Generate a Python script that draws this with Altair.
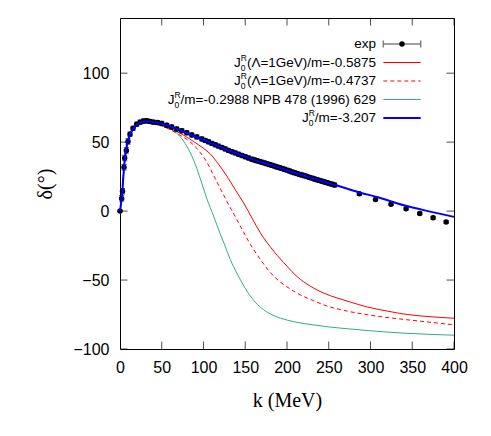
import altair as alt
import pandas as pd

# ---------------- data ----------------
exp_k = [0, 2, 3, 4.8, 5.6, 7.6, 9.6, 12, 15.6, 20, 24, 28, 32, 36, 40, 45, 50, 56, 62, 68,
         74, 80, 86, 92,
         98, 102, 106, 110, 114, 118, 122, 126, 130, 134, 138, 142, 146, 150, 154, 158,
         161, 164, 167, 170, 173, 176, 179, 182, 185, 188, 191, 194, 197, 200, 203, 206, 209,
         212, 215, 218, 221, 224, 227, 230, 233, 236, 239, 242, 245, 248, 251, 254, 257,
         286.6, 306, 324.6, 342.6, 359, 375, 390.6]
exp_d = [0, 9.2, 14.4, 31.8, 38.5, 44, 50.5, 55.8, 60, 63, 64.5, 65.3, 65.5, 65, 64.5, 64.2,
         63.6, 62.2, 61, 59.5, 58.3, 56.8, 55.2, 53.8,
         52.3, 51.2, 50.2, 49.1, 48.1, 47.1, 46.1, 45.1, 44.0, 43.1, 42.2, 41.2, 40.3, 39.4,
         38.5, 37.6,
         37.1, 36.5, 36.0, 35.4, 34.9, 34.3, 33.7, 33.2, 32.6, 32.0, 31.5, 30.9, 30.3, 29.7,
         29.1, 28.4, 27.8, 27.2, 26.6, 26.1, 25.6, 25.0, 24.4, 23.9, 23.3, 22.7, 22.2, 21.6,
         21.1, 20.6, 20.0, 19.5, 18.9,
         12.5, 8.4, 5.0, 1.7, -1.7, -4.8, -7.9]
exp_err = [0.5, 2, 2, 2, 2, 2, 2, 1.5, 1.5, 1.5, 1.5, 1.5, 1.5, 1.5, 1.5, 1.5, 1.5, 1.5, 1.5,
           1.5, 1.5, 1.5, 1.5, 1.5,
           1.5, 1.5, 1.5, 1.5, 1.5, 1.5, 1.5, 1.5, 1.5, 1.5, 1.5, 1.5, 1.5, 1.5, 1.5, 1.5,
           1.5, 1.5, 1.5, 1.5, 1.5, 1.5, 1.5, 1.5, 1.5, 1.5, 1.5, 1.5, 1.5, 1.5, 1.5, 1.5, 1.5,
           1.5, 1.5, 1.5, 1.5, 1.5, 1.5, 1.5, 1.5, 1.5, 1.5, 1.5, 1.5, 1.5, 1.5, 1.5, 1.5,
           1, 1, 1, 1, 1, 1, 1]

blue_k = [0, 1, 2, 3, 4, 5, 6, 7, 8, 10, 12, 15, 20, 25, 30, 35, 40, 48, 60, 72, 86, 100, 114,
          128, 144, 160, 176, 192, 208, 224, 240, 260, 286, 310, 340, 370, 400]
blue_d = [0, 4.5, 9, 16, 25, 33, 39, 43.5, 47, 52, 55.5, 59, 62.5, 64.5, 65, 65, 64.5, 63.6,
          61.5, 58.5, 55, 51.7, 48, 44.5, 41, 37.3, 34.3, 31.3, 28, 25, 22, 18.5, 13.7, 9.8,
          4.2, -0.2, -4.2]

red_k = [0, 2, 4, 6, 8, 10, 12, 15, 20, 25, 30, 35, 40, 50, 60, 72, 88, 100, 108, 118, 128,
         138, 148, 158, 168, 184, 200, 212, 228, 244, 260, 276, 296, 320, 344, 370, 400]
red_d = [0, 9, 25, 38, 46, 51, 55, 58.5, 62, 63.5, 64.2, 64.3, 64, 62.3, 59.8, 56.5, 50.5,
         45.5, 41.5, 34, 25.3, 15.5, 6, -5, -15.7, -29, -40, -47.5, -54.5, -59.5, -63, -66,
         -69.5, -72.5, -75, -76.5, -77.7]

dash_k = [0, 2, 4, 6, 8, 10, 12, 15, 20, 25, 30, 35, 40, 50, 60, 72, 80, 88, 96, 104, 112, 120,
          128, 138, 146, 156, 168, 180, 192, 204, 212, 232, 244, 272, 300, 332, 370, 400]
dash_d = [0, 9, 25, 38, 46, 51, 55, 58.5, 62, 63.5, 64, 64, 63.5, 61.8, 59, 55, 52, 48, 42.5,
          35.5, 26, 16.5, 7, -4, -13, -24, -35, -44.5, -51.5, -56.5, -59.5, -65, -68, -72.5,
          -75.5, -78, -80.5, -82.5]

green_k = [0, 2, 4, 6, 8, 10, 12, 15, 20, 25, 30, 35, 40, 48, 56, 64, 72, 80, 86, 92, 98, 104,
           112, 120, 126, 132, 140, 152, 162, 172, 185, 200, 212, 232, 250, 276, 300, 340, 400]
green_d = [0, 9, 25, 38, 46, 51, 55, 58.5, 61.8, 63.2, 63.8, 63.8, 63.3, 62, 60.5, 58.3, 54, 47,
           40, 31, 20, 9, -3.5, -16.5, -25.5, -35, -45, -58, -66, -71.5, -76, -79, -80.7, -82.5,
           -84, -85.5, -86.8, -88.5, -90]

x_ticks = [0, 50, 100, 150, 200, 250, 300, 350, 400]
y_ticks = [-100, -50, 0, 50, 100]

legend_exp = "exp"
legend_rest = ["(Λ=1GeV)/m=-0.5875", "(Λ=1GeV)/m=-0.4737",
               "/m=-0.2988 NPB 478 (1996) 629", "/m=-3.207"]

# ---------------- styles ----------------
RED = "#ff0000"
GREEN = "#2fae88"
BLUE = "#0000ff"
FONT = "Liberation Sans"
SERIF = "Liberation Serif"

XS = alt.Scale(domain=[0, 400], nice=False, zero=False)
YS = alt.Scale(domain=[-100, 140], nice=False, zero=False)

xaxis = alt.Axis(values=x_ticks, title="k (MeV)", ticks=False, domain=False, grid=False,
                 labelFontSize=16, labelFont=FONT, labelColor="black", labelPadding=10,
                 labelFlush=False, labelOverlap=False,
                 titleFont=SERIF, titleFontSize=20, titleFontWeight="normal",
                 titleColor="black", titleY=51, titleBaseline="middle")
yaxis = alt.Axis(values=y_ticks, title="δ(°)", ticks=False, domain=False, grid=False,
                 labelFontSize=16, labelFont=FONT, labelColor="black", labelPadding=11,
                 labelFlush=False, labelOverlap=False,
                 titleFont=SERIF, titleFontSize=20, titleFontWeight="normal",
                 titleColor="black", titleX=-75, titleY=165.5, titleBaseline="middle",
                 titleAlign="center")


def X(f):
    return alt.X(f, type="quantitative", scale=XS, axis=xaxis)


def Y(f):
    return alt.Y(f, type="quantitative", scale=YS, axis=yaxis)


def curve(ks, ds, color, width, dash=None):
    df = pd.DataFrame({"k": ks, "d": ds})
    kw = dict(color=color, strokeWidth=width, interpolate="monotone")
    if dash:
        kw["strokeDash"] = dash
    return alt.Chart(df).mark_line(**kw).encode(x=X("k"), y=Y("d"))


layers = []

# inward ticks (clipped to the plot area)
xt = pd.DataFrame({"k": x_ticks})
yt = pd.DataFrame({"d": y_ticks})
for yv in (-100, 140):
    layers.append(alt.Chart(xt).mark_tick(orient="vertical", size=15, thickness=1,
                                          color="black", clip=True)
                  .encode(x=X("k"), y=alt.Y(datum=yv, type="quantitative", scale=YS, axis=yaxis)))
for xv in (0, 400):
    layers.append(alt.Chart(yt).mark_tick(orient="horizontal", size=15, thickness=1,
                                          color="black", clip=True)
                  .encode(y=Y("d"), x=alt.X(datum=xv, type="quantitative", scale=XS, axis=xaxis)))

layers.append(curve(green_k, green_d, GREEN, 1))
layers.append(curve(dash_k, dash_d, RED, 1, [4, 3]))
layers.append(curve(red_k, red_d, RED, 1))

exp_df = pd.DataFrame({"k": exp_k, "d": exp_d, "e": exp_err})
exp_df["lo"] = exp_df["d"] - exp_df["e"]
exp_df["hi"] = exp_df["d"] + exp_df["e"]
layers.append(alt.Chart(exp_df).mark_rule(color="black", strokeWidth=1)
              .encode(x=X("k"), y=Y("lo"), y2="hi"))
layers.append(alt.Chart(exp_df).mark_tick(orient="horizontal", size=5, thickness=1, color="black")
              .encode(x=X("k"), y=Y("lo")))
layers.append(alt.Chart(exp_df).mark_tick(orient="horizontal", size=5, thickness=1, color="black")
              .encode(x=X("k"), y=Y("hi")))
layers.append(alt.Chart(exp_df).mark_circle(color="black", size=30, opacity=1)
              .encode(x=X("k"), y=Y("d")))

layers.append(curve(blue_k, blue_d, BLUE, 2))

# ---------------- legend ----------------
one = pd.DataFrame({"a": [0]})
W = {"(": 333, ")": 333, "Λ": 667, "=": 584, "G": 778, "e": 556, "V": 667, "/": 278,
     "m": 833, "-": 333, ".": 278, " ": 278, "N": 722, "P": 667, "B": 667}
for c in "0123456789":
    W[c] = 556
FS = 13.5
SS = 8.5
XR = 256
L0, L1 = 263.3, 300.7
ROW0 = 26
DY = 18.5


def txt(s, x, y, size, align):
    return (alt.Chart(one).mark_text(text=s, align=align, baseline="middle", fontSize=size,
                                     font=FONT, color="black")
            .encode(x=alt.value(x), y=alt.value(y)))


def hline(x1, x2, y, color, width, dash=None):
    kw = dict(color=color, strokeWidth=width)
    if dash:
        kw["strokeDash"] = dash
    return alt.Chart(one).mark_rule(**kw).encode(x=alt.value(x1), x2=alt.value(x2), y=alt.value(y))


def vline(x, y1, y2, color, width):
    return (alt.Chart(one).mark_rule(color=color, strokeWidth=width)
            .encode(x=alt.value(x), y=alt.value(y1), y2=alt.value(y2)))


# exp row
layers.append(txt(legend_exp, XR, ROW0, FS, "right"))
layers.append(hline(L0, L1, ROW0, "#808080", 1.5))
layers.append(vline(L0, ROW0 - 3.5, ROW0 + 3.5, "#808080", 1.5))
layers.append(vline(L1, ROW0 - 3.5, ROW0 + 3.5, "#808080", 1.5))
layers.append(alt.Chart(one).mark_circle(color="black", size=30, opacity=1)
              .encode(x=alt.value((L0 + L1) / 2), y=alt.value(ROW0)))

line_styles = [(RED, 1, None), (RED, 1, [4, 3]), (GREEN, 1, None), (BLUE, 2, None)]
for i, rest in enumerate(legend_rest):
    y = ROW0 + DY * (i + 1)
    w = sum(W[c] for c in rest) * FS / 1000
    xs = XR - w - 0.722 * SS
    layers.append(txt(rest, XR, y, FS, "right"))
    layers.append(txt("J", xs, y, FS, "right"))
    layers.append(txt("0", xs, y + 5, SS, "left"))
    layers.append(txt("R", xs, y - 5, SS, "left"))
    col, wd, dsh = line_styles[i]
    layers.append(hline(L0, L1, y, col, wd, dsh))

chart = (alt.layer(*layers)
         .properties(width=334, height=331,
                     padding={"left": 112, "top": 10, "right": 29, "bottom": 79},
                     autosize=alt.AutoSizeParams(type="none"),
                     background="white")
         .configure_view(stroke="black", strokeWidth=1))

chart.save("out.html", embed_options={"renderer": "svg", "actions": False})
